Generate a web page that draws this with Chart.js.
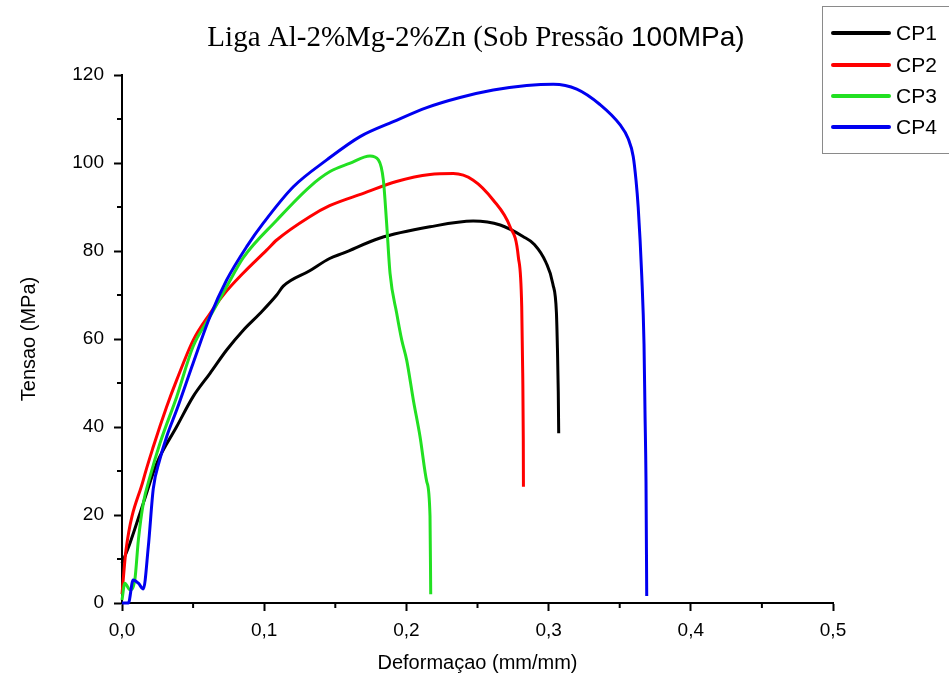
<!DOCTYPE html>
<html>
<head>
<meta charset="utf-8">
<script src="https://cdn.jsdelivr.net/npm/chart.js@4.4.1/dist/chart.umd.min.js"></script>
<style>
  html, body { margin: 0; padding: 0; background: #fff; }
  #wrap { width: 949px; height: 686px; }
</style>
</head>
<body>
<div id="wrap"><canvas id="tensileChart" width="949" height="686"></canvas></div>
<script>
const seriesNames = ["CP1", "CP2", "CP3", "CP4"];
const seriesColors = ["#000000", "#ff0000", "#22e022", "#0000f0"];

// strain (mm/mm) and stress (MPa)
const cp1Strain = [0, 0.0056, 0.015, 0.0244, 0.0385, 0.050, 0.0619, 0.0736, 0.0853, 0.097, 0.1088, 0.1134, 0.132, 0.146, 0.1556, 0.181, 0.2166, 0.247, 0.266, 0.282, 0.29, 0.298, 0.303, 0.3055, 0.3062, 0.3068, 0.3071];
const cp1Stress = [9.0, 13.6, 22.7, 31.7, 40.1, 46.9, 52.2, 57.5, 62.0, 65.8, 70.0, 72.0, 75.5, 78.3, 79.5, 82.9, 85.5, 86.8, 85.9, 83.3, 81.5, 77.5, 72.5, 66.0, 58.0, 48.0, 38.6];

const cp2Strain = [0, 0.0028, 0.015, 0.022, 0.0314, 0.0385, 0.0502, 0.0619, 0.0712, 0.0853, 0.1017, 0.1088, 0.132, 0.146, 0.1697, 0.193, 0.2166, 0.233, 0.247, 0.261, 0.2729, 0.2787, 0.2811, 0.2818, 0.2822, 0.2823];
const cp2Stress = [2.0, 12.0, 28.0, 35.5, 44.6, 50.7, 59.8, 65.8, 70.0, 75.0, 80.2, 82.5, 87.8, 90.3, 93.1, 95.8, 97.4, 97.6, 96.1, 91.6, 85.5, 78.7, 67.3, 52.2, 37.0, 26.4];

const cp3Strain = [0, 0.002, 0.0056, 0.009, 0.0115, 0.015, 0.0197, 0.0267, 0.0385, 0.050, 0.0619, 0.0736, 0.0853, 0.1088, 0.132, 0.146, 0.160, 0.1744, 0.1803, 0.1838, 0.1861, 0.1885, 0.1932, 0.1967, 0.2002, 0.2049, 0.2096, 0.2143, 0.2166, 0.2171];
const cp3Stress = [0.7, 4.5, 3.0, 5.2, 14.3, 22.7, 28.7, 36.3, 46.9, 58.3, 65.1, 71.9, 78.5, 87.0, 94.6, 98.0, 99.9, 101.6, 100.7, 96.1, 86.3, 74.9, 65.8, 59.8, 55.2, 46.1, 37.8, 27.6, 19.8, 2.0];

const cp4Strain = [0, 0.0045, 0.0078, 0.0115, 0.015, 0.0185, 0.022, 0.0265, 0.0314, 0.0385, 0.050, 0.0619, 0.0736, 0.0877, 0.1, 0.1205, 0.144, 0.1674, 0.1908, 0.2143, 0.2377, 0.2611, 0.2846, 0.3033, 0.3198, 0.3361, 0.3502, 0.356, 0.3595, 0.3615, 0.363, 0.3655, 0.3671, 0.3678, 0.3685, 0.369];
const cp4Stress = [0, 0, 5.2, 4.5, 3.2, 12.8, 26.0, 32.5, 37.8, 43.9, 54.5, 65.1, 73.4, 81.0, 86.6, 94.6, 100.7, 106.0, 109.4, 112.6, 114.9, 116.6, 117.6, 117.9, 116.8, 113.3, 108.7, 105.5, 101.5, 96.0, 90.0, 74.4, 58.8, 43.2, 27.6, 1.6];

const xTicks = [0, 0.1, 0.2, 0.3, 0.4, 0.5];
const yTicks = [0, 20, 40, 60, 80, 100, 120];
const xMinorTicks = [0.05, 0.15, 0.25, 0.35, 0.45];
const yMinorTicks = [10, 30, 50, 70, 90, 110];

const strains = [cp1Strain, cp2Strain, cp3Strain, cp4Strain];
const stresses = [cp1Stress, cp2Stress, cp3Stress, cp4Stress];

function toPoints(xs, ys) {
  return xs.map((x, i) => ({ x: x, y: ys[i] }));
}

// title (mixed fonts), legend box and minor ticks
const extrasPlugin = {
  id: "extras",
  afterDraw(chart) {
    const ctx = chart.ctx;
    const xs = chart.scales.x;
    const ys = chart.scales.y;
    ctx.save();

    // minor ticks
    ctx.strokeStyle = "#000";
    ctx.lineWidth = 2;
    yMinorTicks.forEach(v => {
      const py = ys.getPixelForValue(v);
      ctx.beginPath();
      ctx.moveTo(xs.left - 5, py);
      ctx.lineTo(xs.left, py);
      ctx.stroke();
    });
    xMinorTicks.forEach(v => {
      const px = xs.getPixelForValue(v);
      ctx.beginPath();
      ctx.moveTo(px, ys.bottom);
      ctx.lineTo(px, ys.bottom + 5);
      ctx.stroke();
    });

    // title
    const part1 = "Liga Al-2%Mg-2%Zn (Sob Pressão ";
    const part2 = "100MPa)";
    const f1 = '29px "Liberation Serif"';
    const f2 = '28px "Liberation Sans"';
    ctx.font = f1;
    const w1 = ctx.measureText(part1).width;
    ctx.font = f2;
    const w2 = ctx.measureText(part2).width;
    let tx = 476 - (w1 + w2) / 2;
    ctx.fillStyle = "#000";
    ctx.textBaseline = "alphabetic";
    ctx.textAlign = "left";
    ctx.font = f1;
    ctx.fillText(part1, tx, 46);
    ctx.font = f2;
    ctx.fillText(part2, tx + w1, 46);

    // legend box
    ctx.strokeStyle = "#8a8a8a";
    ctx.lineWidth = 1;
    ctx.strokeRect(822.5, 6.5, 140, 147);
    const rowY = [33, 65, 96, 127];
    ctx.font = '21px "Liberation Sans"';
    ctx.textBaseline = "middle";
    seriesNames.forEach((name, i) => {
      ctx.strokeStyle = seriesColors[i];
      ctx.lineWidth = 4;
      ctx.lineCap = "round";
      ctx.beginPath();
      ctx.moveTo(833, rowY[i]);
      ctx.lineTo(889, rowY[i]);
      ctx.stroke();
      ctx.fillStyle = "#000";
      ctx.fillText(name, 896, rowY[i] + 1);
    });
    ctx.restore();
  }
};

Chart.defaults.font.family = '"Liberation Sans", Arial, sans-serif';
Chart.defaults.color = "#000";

const ctx = document.getElementById("tensileChart").getContext("2d");
new Chart(ctx, {
  type: "scatter",
  data: {
    datasets: seriesNames.map((name, i) => ({
      label: name,
      data: toPoints(strains[i], stresses[i]),
      showLine: true,
      borderColor: seriesColors[i],
      backgroundColor: seriesColors[i],
      borderWidth: 3,
      pointRadius: 0,
      cubicInterpolationMode: "monotone",
      clip: 4,
      order: 3 - i
    }))
  },
  options: {
    responsive: false,
    animation: false,
    layout: { padding: { left: 0, right: 116, top: 75, bottom: 0 } },
    plugins: {
      legend: { display: false },
      title: { display: false },
      tooltip: { enabled: false }
    },
    scales: {
      x: {
        type: "linear",
        min: 0,
        max: 0.5,
        afterFit: (scale) => { scale.height = 83; },
        afterBuildTicks: (scale) => { scale.ticks = xTicks.map(v => ({ value: v })); },
        border: { color: "#000", width: 2 },
        grid: { drawOnChartArea: false, tickLength: 8, tickColor: "#000", tickWidth: 2 },
        ticks: {
          padding: 8,
          font: { size: 19 },
          callback: (v) => Number(v).toFixed(1).replace(".", ",")
        },
        title: {
          display: true,
          text: "Deformaçao (mm/mm)",
          font: { size: 20 },
          padding: { bottom: 11 }
        }
      },
      y: {
        min: 0,
        max: 120,
        afterFit: (scale) => { scale.width = 122; },
        afterBuildTicks: (scale) => { scale.ticks = yTicks.map(v => ({ value: v })); },
        border: { color: "#000", width: 2 },
        grid: { drawOnChartArea: false, tickLength: 8, tickColor: "#000", tickWidth: 2 },
        ticks: {
          padding: 10,
          font: { size: 19 },
          callback: (v) => String(v)
        },
        title: {
          display: true,
          text: "Tensao (MPa)",
          font: { size: 20 },
          padding: { top: 17 }
        }
      }
    }
  },
  plugins: [extrasPlugin]
});
</script>
</body>
</html>
